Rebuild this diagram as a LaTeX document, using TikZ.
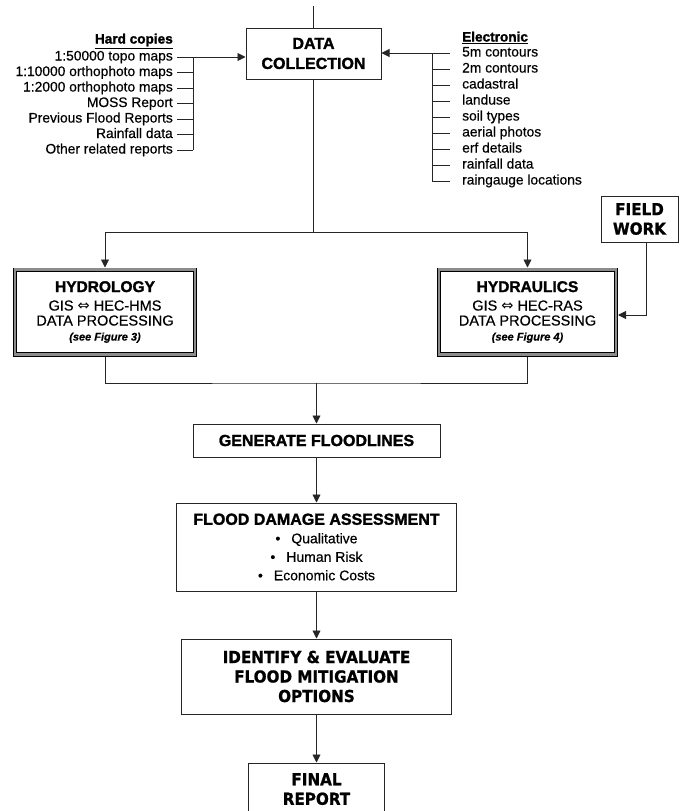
\documentclass[tikz,border=0pt]{standalone}
\usepackage{fontspec}
\setmainfont{Liberation Sans}[FakeBold=0.4]
\newfontfamily\heavy{Liberation Sans Bold}[FakeBold=1.6]
\newfontfamily\verd{DejaVu Sans Bold}[FakeStretch=0.92, FakeBold=1.0]
\newfontfamily\dvs{DejaVu Sans}
\usetikzlibrary{arrows.meta,calc}
\newcommand\blkfont{\heavy\fontsize{16}{20}\selectfont}
\newcommand\verdfont{\verd\fontsize{16.5}{19.5}\selectfont}
\begin{document}
\begin{tikzpicture}[x=1pt,y=-1pt,
  line/.style={draw=black!85, line width=0.9pt},
  arr/.style={line, -{Triangle[length=8pt,width=8pt]}},
  box/.style={draw=black!85, line width=1pt, align=center, inner sep=0pt, fill=white},
  dbox/.style={draw=black, line width=0.8pt, double=black!45, double distance=2.6pt, align=center, inner sep=0pt, outer sep=2.1pt},
  item/.style={inner sep=0pt, font=\fontsize{13.8}{15}\selectfont, text height=10pt, text depth=3pt},
  head/.style={item, font=\heavy\fontsize{13.6}{15}\selectfont}
]
\useasboundingbox (0,0) rectangle (680,811);
\clip (0,0) rectangle (680,811);
\fill[white] (0,0) rectangle (680,811);

% main boxes
\node[box, minimum width=135, minimum height=51, font=\blkfont] (dc) at (313.5,53.5) {DATA\\COLLECTION};
\node[dbox, minimum width=179.8, minimum height=84.8, font=\fontsize{14.5}{15}\selectfont] (hyd) at (105,312)
  {{\heavy\fontsize{15.5}{15}\selectfont HYDROLOGY}\\[3.5pt]GIS {\dvs ⇔} HEC-HMS\\DATA PROCESSING\\{\fontsize{11}{15}\selectfont\bfseries\itshape (see Figure 3)}};
\node[dbox, minimum width=176.8, minimum height=84.8, font=\fontsize{14.5}{15}\selectfont] (hyr) at (527.5,312)
  {{\heavy\fontsize{15.5}{15}\selectfont HYDRAULICS}\\[3.5pt]GIS {\dvs ⇔} HEC-RAS\\DATA PROCESSING\\{\fontsize{11}{15}\selectfont\bfseries\itshape (see Figure 4)}};
\node[box, minimum width=77, minimum height=46, font=\verdfont] (fw) at (639.5,219) {FIELD\\WORK};
\node[box, minimum width=247, minimum height=33, font=\blkfont] (gen) at (316.5,440.5) {GENERATE FLOODLINES};
\node[box, minimum width=280, minimum height=88, font=\fontsize{14}{18.5}\selectfont] (fda) at (316.5,547)
  {{\blkfont FLOOD DAMAGE ASSESSMENT}\\•\hspace{11pt}Qualitative\\•\hspace{11pt}Human Risk\\•\hspace{11pt}Economic Costs};
\node[box, minimum width=270, minimum height=75, font=\verdfont] (idf) at (316.5,676.5) {IDENTIFY \& EVALUATE\\FLOOD MITIGATION\\OPTIONS};
\node[box, minimum width=136, minimum height=52, font=\verdfont, text depth=0pt] (fin) at (316.5,789) {FINAL\\REPORT};

% hard copies list
\node[head, anchor=east] (hc) at (173,40) {\underline{Hard copies}};
\node[item, anchor=east] (h1) at (173,57) {1:50000 topo maps};
\node[item, anchor=east] (h2) at (173,72.5) {1:10000 orthophoto maps};
\node[item, anchor=east] (h3) at (173,88) {1:2000 orthophoto maps};
\node[item, anchor=east] (h4) at (173,103.5) {MOSS Report};
\node[item, anchor=east] (h5) at (173,119) {Previous Flood Reports};
\node[item, anchor=east] (h6) at (173,134.5) {Rainfall data};
\node[item, anchor=east] (h7) at (173,150) {Other related reports};
\coordinate (hb) at (193,57);
\foreach \n in {2,...,7} \draw[line] ([xshift=4pt]h\n.east) -- (h\n.east -| hb);
\draw[line] (hb) -- (h7.east -| hb);
\draw[arr] ([xshift=4pt]h1.east) -- (h1.east -| dc.west);

% electronic list
\node[head, anchor=west] (el) at (462,38) {\underline{Electronic}};
\node[item, anchor=west] (e1) at (462,53) {5m contours};
\node[item, anchor=west] (e2) at (462,69) {2m contours};
\node[item, anchor=west] (e3) at (462,85) {cadastral};
\node[item, anchor=west] (e4) at (462,101) {landuse};
\node[item, anchor=west] (e5) at (462,117) {soil types};
\node[item, anchor=west] (e6) at (462,133) {aerial photos};
\node[item, anchor=west] (e7) at (462,149) {erf details};
\node[item, anchor=west] (e8) at (462,165) {rainfall data};
\node[item, anchor=west] (e9) at (462,181) {raingauge locations};
\coordinate (eb) at (432,53);
\foreach \n in {2,...,9} \draw[line] (e\n.west -| eb) -- ([xshift=-12pt]e\n.west);
\draw[line] (eb) -- (e9.west -| eb);
\draw[arr] ([xshift=-12pt]e1.west) -- (e1.west -| dc.east);

% main flow
\coordinate (top) at (313.5,6);
\draw[line] (top) -- (dc.north);
\coordinate (split) at (313.5,232);
\draw[line] (dc.south) -- (split);
\draw[arr] (split) -| (hyd.north);
\draw[arr] (split) -| (hyr.north);
\coordinate (merge) at (316.5,383);
\draw[line] (hyd.south) |- (merge) -| (hyr.south);
\draw[arr] (merge) -- (gen.north);
\coordinate (fwy) at (0,315);
\draw[arr] ([xshift=6.5pt]fw.south) |- (hyr.east |- fwy);
\draw[arr] (gen.south) -- (fda.north);
\draw[arr] (fda.south) -- (idf.north);
\draw[arr] (idf.south) -- (fin.north);
\end{tikzpicture}
\end{document}
